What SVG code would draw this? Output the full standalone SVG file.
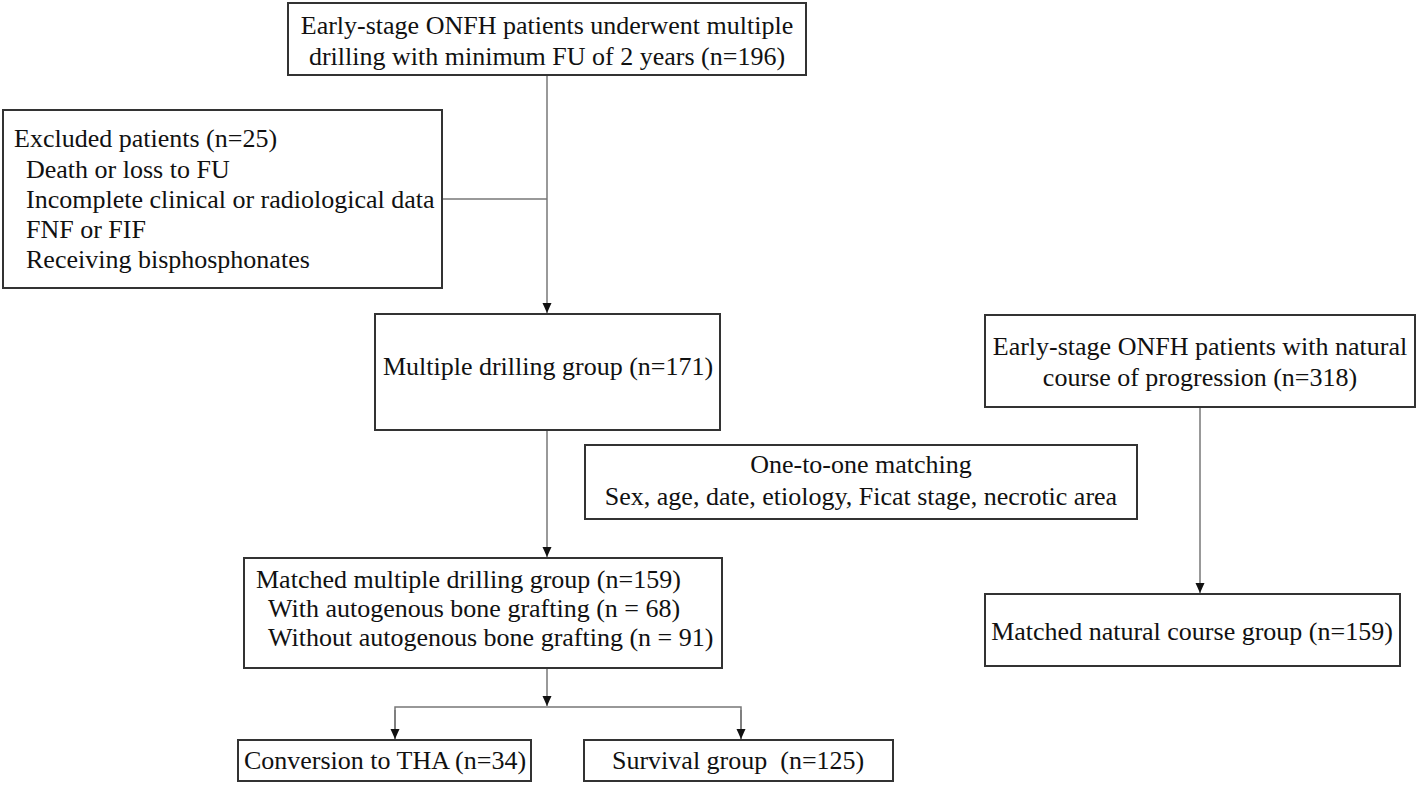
<svg xmlns="http://www.w3.org/2000/svg" width="1418" height="785" viewBox="0 0 1418 785">
<style>
.box{fill:#fff;stroke:#333;stroke-width:2}
.t{font-family:'Liberation Serif','Times New Roman',Times,'DejaVu Serif',serif;font-size:26px;fill:#111}
.c{text-anchor:middle}
.ln{fill:none;stroke:#777;stroke-width:1.5}
</style>
<defs>
<marker id="ah" viewBox="0 0 10 10" refX="10" refY="5" markerWidth="10" markerHeight="10" markerUnits="userSpaceOnUse" orient="auto">
<path d="M0,0.5 L10,5 L0,9.5 Z" fill="#111"/>
</marker>
</defs>
<rect width="1418" height="785" fill="#fff"/>
<g id="connectors">
<line class="ln" x1="547" y1="75" x2="547" y2="313" marker-end="url(#ah)"/>
<line class="ln" x1="442" y1="199" x2="547" y2="199"/>
<line class="ln" x1="547" y1="430" x2="547" y2="557" marker-end="url(#ah)"/>
<line class="ln" x1="547" y1="668" x2="547" y2="706" marker-end="url(#ah)"/>
<polyline class="ln" points="395,739 395,707 741,707 741,739"/>
<line class="ln" x1="395" y1="710" x2="395" y2="739" marker-end="url(#ah)"/>
<line class="ln" x1="741" y1="710" x2="741" y2="739" marker-end="url(#ah)"/>
<line class="ln" x1="1200" y1="407" x2="1200" y2="593" marker-end="url(#ah)"/>
</g>
<g font-family="Liberation Serif, serif">
<g id="n-top">
<rect class="box" x="288" y="3" width="518" height="72"/>
<text class="t c" x="547" y="34">Early-stage ONFH patients underwent multiple</text>
<text class="t c" x="547" y="65">drilling with minimum FU of 2 years (n=196)</text>
</g>
<g id="n-excluded">
<rect class="box" x="3" y="110" width="439" height="178"/>
<text class="t" x="14" y="147">Excluded patients (n=25)</text>
<text class="t" x="26" y="178">Death or loss to FU</text>
<text class="t" x="26" y="208">Incomplete clinical or radiological data</text>
<text class="t" x="26" y="238">FNF or FIF</text>
<text class="t" x="26" y="268">Receiving bisphosphonates</text>
</g>
<g id="n-multi">
<rect class="box" x="375" y="314" width="345" height="116"/>
<text class="t c" x="548" y="375">Multiple drilling group (n=171)</text>
</g>
<g id="n-natural">
<rect class="box" x="985" y="315" width="430" height="92"/>
<text class="t c" x="1200" y="355">Early-stage ONFH patients with natural</text>
<text class="t c" x="1200" y="386">course of progression (n=318)</text>
</g>
<g id="n-matching">
<rect class="box" x="585" y="445" width="552" height="74"/>
<text class="t c" x="861" y="473">One-to-one matching</text>
<text class="t c" x="861" y="505">Sex, age, date, etiology, Ficat stage, necrotic area</text>
</g>
<g id="n-matched-multi">
<rect class="box" x="244" y="558" width="478" height="110"/>
<text class="t" x="256" y="588">Matched multiple drilling group (n=159)</text>
<text class="t" x="268" y="617">With autogenous bone grafting (n = 68)</text>
<text class="t" x="268" y="646">Without autogenous bone grafting (n = 91)</text>
</g>
<g id="n-matched-natural">
<rect class="box" x="985" y="594" width="415" height="72"/>
<text class="t c" x="1192" y="640">Matched natural course group (n=159)</text>
</g>
<g id="n-tha">
<rect class="box" x="238" y="740" width="293" height="41"/>
<text class="t c" x="385" y="769">Conversion to THA (n=34)</text>
</g>
<g id="n-survival">
<rect class="box" x="584" y="740" width="309" height="41"/>
<text class="t" x="612" y="769" xml:space="preserve">Survival group  (n=125)</text>
</g>
</g>
</svg>
